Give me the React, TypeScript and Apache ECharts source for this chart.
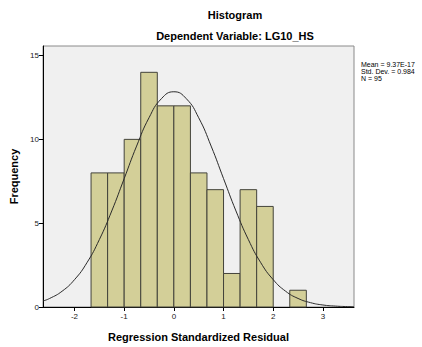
import React, { useEffect, useRef } from "react";
import * as echarts from "echarts";

const binStarts = [-5 / 3, -4 / 3, -1, -2 / 3, -1 / 3, 0, 1 / 3, 2 / 3, 1, 4 / 3, 5 / 3, 2, 7 / 3];
const binWidth = 1 / 3;
const counts = [8, 8, 10, 14, 12, 12, 8, 7, 2, 7, 6, 0, 1];

const curveX = [-2.634, -2.5, -2.25, -2, -1.75, -1.5, -1.25, -1, -0.75, -0.5, -0.25, 0, 0.25, 0.5, 0.75, 1, 1.25, 1.5, 1.75, 2, 2.25, 2.5, 2.75, 3, 3.25, 3.5, 3.626];
const curveY = [0.36, 0.51, 0.94, 1.63, 2.64, 4.02, 5.73, 7.66, 9.6, 11.29, 12.43, 12.84, 12.43, 11.29, 9.6, 7.66, 5.73, 4.02, 2.64, 1.63, 0.94, 0.51, 0.26, 0.12, 0.055, 0.023, 0.014];

const xTicks = [-2, -1, 0, 1, 2, 3];
const yTicks = [0, 5, 10, 15];

const statLines = ["Mean = 9.37E-17", "Std. Dev. = 0.984", "N = 95"];

export default function App() {
  const ref = useRef<HTMLDivElement>(null);
  useEffect(() => {
    const chart = echarts.init(ref.current!, null, { renderer: "svg" });
    const font = "Liberation Sans, Arial, sans-serif";
    chart.setOption({
      animation: false,
      backgroundColor: "#ffffff",
      grid: {
        left: 41,
        top: 46,
        width: 313,
        height: 269,
        show: true,
        backgroundColor: "#f0f0f0",
        borderColor: "#8a8a8a",
        borderWidth: 1,
      },
      xAxis: {
        type: "value",
        min: -2.634,
        max: 3.626,
        name: "Regression Standardized Residual",
        nameLocation: "middle",
        nameGap: 24,
        nameTextStyle: { fontFamily: font, fontWeight: "bold", fontSize: 11, color: "#000" },
        axisLine: { show: true, onZero: false, lineStyle: { color: "#000", width: 1 } },
        axisTick: { show: true, length: 4, lineStyle: { color: "#000" }, customValues: xTicks },
        axisLabel: { fontFamily: font, fontSize: 8, color: "#222", margin: 5, customValues: xTicks },
        splitLine: { show: false },
      },
      yAxis: {
        type: "value",
        min: 0,
        max: 15.57,
        name: "Frequency",
        nameLocation: "middle",
        nameGap: 24,
        nameTextStyle: { fontFamily: font, fontWeight: "bold", fontSize: 11, color: "#000" },
        axisLine: { show: true, onZero: false, lineStyle: { color: "#000", width: 1 } },
        axisTick: { show: true, length: 4, lineStyle: { color: "#000" }, customValues: yTicks },
        axisLabel: { fontFamily: font, fontSize: 8, color: "#222", margin: 4, customValues: yTicks },
        splitLine: { show: false },
      },
      series: [
        {
          type: "custom",
          data: binStarts.map((s, i) => [s, s + binWidth, counts[i]]),
          encode: { x: [0, 1], y: 2 },
          renderItem: (params: any, api: any) => {
            const c = api.value(2);
            if (!c) return null;
            const p0 = api.coord([api.value(0), 0]);
            const p1 = api.coord([api.value(1), c]);
            return {
              type: "rect",
              shape: { x: p0[0], y: p1[1], width: p1[0] - p0[0], height: p0[1] - p1[1] },
              style: { fill: "#d3cf98", stroke: "#43433a", lineWidth: 1 },
            };
          },
          z: 2,
        },
        {
          type: "line",
          data: curveX.map((x, i) => [x, curveY[i]]),
          smooth: true,
          showSymbol: false,
          lineStyle: { color: "#2a2a2a", width: 1 },
          z: 3,
        },
      ],
      graphic: [
        { type: "text", x: 235, y: 9, style: { text: "Histogram", font: `bold 11px ${font}`, fill: "#000", textAlign: "center" } },
        { type: "text", x: 235, y: 30, style: { text: "Dependent Variable: LG10_HS", font: `bold 11px ${font}`, fill: "#000", textAlign: "center" } },
        ...statLines.map((t, i) => ({
          type: "text",
          x: 361,
          y: 61 + i * 7,
          style: { text: t, font: `7px ${font}`, fill: "#000" },
        })),
      ],
    });
    return () => chart.dispose();
  }, []);
  return <div ref={ref} style={{ width: 422, height: 347, position: "absolute", left: 0, top: 0 }} />;
}
